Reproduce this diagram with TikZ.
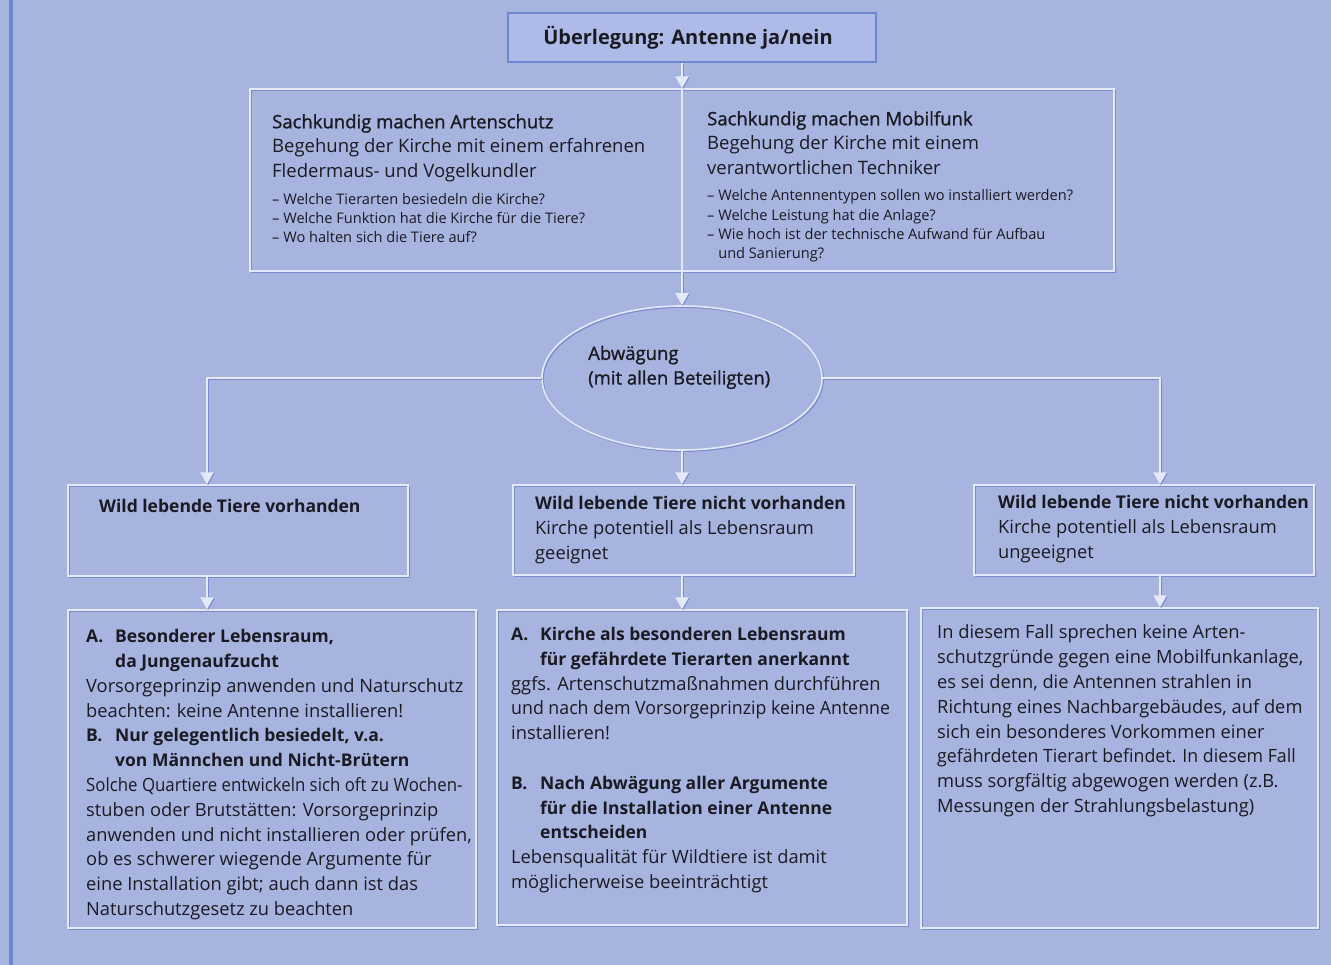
\documentclass[tikz,border=0pt]{standalone}
\usepackage{fontspec}
\setmainfont{Open Sans}
\newfontfamily\medfont[FakeBold=1.2]{Open Sans}
\newfontfamily\condfont[FakeStretch=0.92]{Open Sans}
\usetikzlibrary{arrows.meta,shapes.geometric,calc}
\definecolor{bgc}{HTML}{A8B4E0}
\definecolor{lightc}{HTML}{E3E9F8}
\definecolor{shadowc}{HTML}{7A8CCF}
\definecolor{topc}{HTML}{6F86D0}
\definecolor{topfill}{HTML}{AEBBE8}
\definecolor{txt}{HTML}{1A1A22}
\newcommand{\itm}[1]{\makebox[29pt][l]{#1}}
\newcommand{\ind}{\hspace*{29pt}}
\newcommand{\hb}{\bfseries\fontsize{17.5}{24.8}\selectfont}
\begin{document}
\begin{tikzpicture}[x=1pt,y=-1pt,
  boxst/.style={draw=lightc, line width=1.4pt, inner sep=0pt,
    preaction={draw=shadowc, line width=1.4pt, transform canvas={shift={(1.5pt,-1.5pt)}}}},
  topbox/.style={draw=topc, fill=topfill, line width=2.2pt, inner sep=0pt, text=txt,
    font=\bfseries\fontsize{20}{24}\selectfont},
  ellst/.style={ellipse, draw=lightc, line width=1.6pt, inner sep=0pt,
    preaction={draw=shadowc, line width=1.4pt, transform canvas={shift={(1.2pt,-1.2pt)}}}},
  conn/.style={draw=lightc, line width=2pt, -{Triangle[width=13pt,length=12pt]},
    preaction={draw=shadowc, line width=1.6pt, transform canvas={shift={(1pt,-1pt)}}}},
  divline/.style={draw=lightc, line width=2pt},
  bodytxt/.style={anchor=base west, align=left, inner sep=0pt, text=txt,
    font=\fontsize{18.5}{24.6}\selectfont},
  lowtxt/.style={bodytxt, font=\fontsize{18.3}{24.8}\selectfont},
  listtxt/.style={anchor=base west, align=left, inner sep=0pt, text=txt,
    font=\fontsize{14.6}{19.4}\selectfont},
]
\useasboundingbox (0,0) rectangle (1331,965);
\fill[bgc] (0,0) rectangle (1331,965);
\draw[topc, line width=3.5pt] (11,0) -- (11,965);

% boxes
\node[topbox, minimum width=368, minimum height=49] (top) at (692,37.5) {Überlegung: Antenne ja/nein\hspace*{8pt}};
\node[boxst, minimum width=864, minimum height=182] (box2) at (682,180) {};
\node[ellst, minimum width=280, minimum height=144] (ell) at (682,378) {};
\node[boxst, minimum width=340, minimum height=91] (L1) at (238,530.5) {};
\node[boxst, minimum width=341, minimum height=90] (M1) at (683.5,530) {};
\node[boxst, minimum width=340, minimum height=90] (R1) at (1144,530) {};
\node[boxst, minimum width=408, minimum height=318] (L2) at (272,769) {};
\node[boxst, minimum width=410, minimum height=315] (M2) at (702,767.5) {};
\node[boxst, minimum width=397, minimum height=320] (R2) at (1119.5,768) {};

% connectors
\draw[conn] ([xshift=-10pt]top.south) -- (box2.north);
\draw[divline] (box2.north) -- (box2.south);
\draw[conn] (box2.south) -- (ell.north);
\draw[conn] (ell.west) -| ([xshift=-31pt]L1.north);
\draw[conn] (ell.east) -| ([xshift=16pt]R1.north);
\draw[conn] (ell.south) -- (ell.south |- M1.north);
\draw[conn] ([xshift=-31pt]L1.south) -- ([xshift=-31pt]L1.south |- L2.north);
\draw[conn] (M1.south -| ell.south) -- (ell.south |- M2.north);
\draw[conn] ([xshift=16pt]R1.south) -- ([xshift=16pt]R1.south |- R2.north);

% texts (anchor = baseline of the last line)
\node[bodytxt] (t2a) at (272,177.5) {{\medfont Sachkundig machen Artenschutz}\\Begehung der Kirche mit einem erfahrenen\\Fledermaus- und Vogelkundler};
\node[listtxt] (t2al) at (272,243) {– Welche Tierarten besiedeln die Kirche?\\– Welche Funktion hat die Kirche für die Tiere?\\– Wo halten sich die Tiere auf?};
\node[bodytxt] (t2b) at (707,174.5) {{\medfont Sachkundig machen Mobilfunk}\\Begehung der Kirche mit einem\\verantwortlichen Techniker};
\node[listtxt] (t2bl) at (707,259) {– Welche Antennentypen sollen wo installiert werden?\\– Welche Leistung hat die Anlage?\\– Wie hoch ist der technische Aufwand für Aufbau\\\phantom{– }und Sanierung?};
\node[bodytxt, font=\medfont\fontsize{18.5}{24.6}\selectfont] (tell) at (588,384.5) {Abwägung\\(mit allen Beteiligten)};

\node[lowtxt] (tL1) at (99,512.5) {\hb Wild lebende Tiere vorhanden};
\node[lowtxt] (tM1) at (535,559.5) {{\hb Wild lebende Tiere nicht vorhanden}\\Kirche potentiell als Lebensraum\\geeignet};
\node[lowtxt] (tR1) at (998,558.5) {{\hb Wild lebende Tiere nicht vorhanden}\\Kirche potentiell als Lebensraum\\ungeeignet};

\node[lowtxt] (tL2) at (86,915.5) {{\hb \itm{A.}Besonderer Lebensraum,}\\{\hb \ind da Jungenaufzucht}\\Vorsorgeprinzip anwenden und Naturschutz\\beachten: keine Antenne installieren!\\{\hb \itm{B.}Nur gelegentlich besiedelt, v.a.}\\{\hb \ind von Männchen und Nicht-Brütern}\\{\condfont Solche Quartiere entwickeln sich oft zu Wochen-}\\stuben oder Brutstätten: Vorsorgeprinzip\\anwenden und nicht installieren oder prüfen,\\ob es schwerer wiegende Argumente für\\eine Installation gibt; auch dann ist das\\Naturschutzgesetz zu beachten};

\node[lowtxt] (tM2) at (511,888.5) {{\hb \itm{A.}Kirche als besonderen Lebensraum}\\{\hb \ind für gefährdete Tierarten anerkannt}\\ggfs. Artenschutzmaßnahmen durchführen\\{\addfontfeature{FakeStretch=0.97}und nach dem Vorsorgeprinzip keine Antenne}\\installieren!\\[24.8pt]{\hb \itm{B.}Nach Abwägung aller Argumente}\\{\hb \ind für die Installation einer Antenne}\\{\hb \ind entscheiden}\\Lebensqualität für Wildtiere ist damit\\möglicherweise beeinträchtigt};

\node[lowtxt] (tR2) at (937,812.5) {In diesem Fall sprechen keine Arten-\\schutzgründe gegen eine Mobilfunkanlage,\\es sei denn, die Antennen strahlen in\\Richtung eines Nachbargebäudes, auf dem\\sich ein besonderes Vorkommen einer\\{\addfontfeature{FakeStretch=0.97}gefährdeten Tierart befindet. In diesem Fall}\\muss sorgfältig abgewogen werden (z.B.\\Messungen der Strahlungsbelastung)};
\end{tikzpicture}
\end{document}
